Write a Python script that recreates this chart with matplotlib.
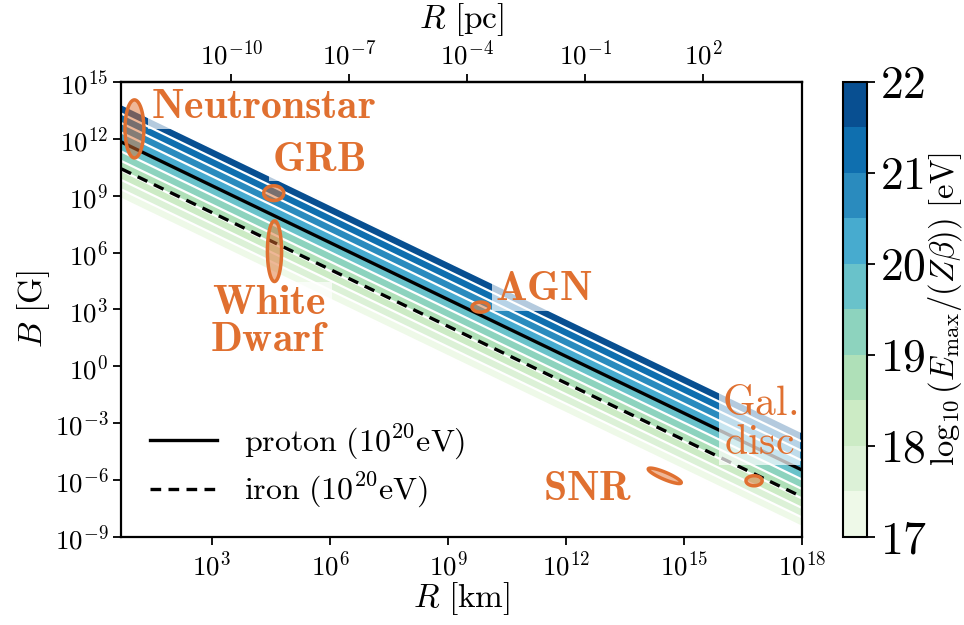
import numpy as np
import matplotlib
matplotlib.use("Agg")
import matplotlib.pyplot as plt
from matplotlib.colors import to_rgba
from matplotlib.ticker import FixedLocator, NullLocator, FuncFormatter

plt.rcParams['font.family'] = 'serif'
plt.rcParams['font.serif'] = ['cmr10', 'DejaVu Serif']
plt.rcParams['mathtext.fontset'] = 'cm'
plt.rcParams['axes.unicode_minus'] = False

# Hillas criterion: E[eV] = k * Z * beta * B[G] * R[km]
k_hillas = 2.998e7
km_per_pc = 3.086e13

e_levels = np.arange(17, 22.5, 0.5)
e_line = 1e20
z_proton = 1
z_iron = 26

# sources: centre (log10 R[km], log10 B[G]), full extent in decades, tilt in log-log
src_names = ['Neutronstar', 'GRB', 'White Dwarf', 'AGN', 'SNR', 'Gal. disc']
src_logR = [1.03, 4.57, 4.59, 9.83, 14.51, 16.78]
src_logB = [12.52, 9.13, 6.07, 3.12, -5.78, -6.04]
src_width = [0.48, 0.51, 0.36, 0.44, 1.13, 0.41]
src_height = [3.06, 0.78, 3.2, 0.53, 0.30, 0.53]
src_angle = [0, 0, 0, 0, -44, 0]

# label positions (log10 R, log10 B)
lab_text = [r'$\mathbf{Neutronstar}$', r'$\mathbf{GRB}$',
            r'$\mathbf{White}$' + '\n' + r'$\mathbf{Dwarf}$', r'$\mathbf{AGN}$',
            r'$\mathbf{SNR}$', r'$\mathrm{Gal.}$' + '\n' + r'$\mathrm{disc}$']
lab_logR = [4.30, 5.72, 4.46, 11.43, 12.56, 16.92]
lab_logB = [13.68, 10.89, 2.34, 4.08, -6.47, -3.05]
lab_spacing = [1.0, 1.0, 1.0, 1.0, 1.0, 1.05]

orange = '#e07030'

fig = plt.figure(figsize=(9.64, 6.25), dpi=100)
ax = fig.add_axes([0.126, 0.141, 0.706, 0.728])
cax = fig.add_axes([0.8745, 0.141, 0.0245, 0.728])

R = np.logspace(0.7, 18, 400)
B = np.logspace(-9, 15, 400)
RR, BB = np.meshgrid(R, B)
logE = np.log10(k_hillas * BB * RR)

cf = ax.contourf(RR, BB, logE, levels=e_levels, cmap='GnBu')
ax.contour(RR, BB, logE, levels=e_levels, colors='white', linewidths=1.6)

ax.plot(R, e_line / (k_hillas * z_proton * R), color='black', lw=2.4,
        label=r'$\mathrm{proton}\ (10^{20}\mathrm{eV})$')
ax.plot(R, e_line / (k_hillas * z_iron * R), color='black', lw=2.4, ls='--',
        dashes=(3.2, 2.2), label=r'$\mathrm{iron}\ (10^{20}\mathrm{eV})$')

t = np.linspace(0, 2 * np.pi, 200)
for lx, ly, w, h, ang in zip(src_logR, src_logB, src_width, src_height, src_angle):
    th = np.deg2rad(ang)
    px = lx + 0.5 * w * np.cos(t) * np.cos(th) - 0.5 * h * np.sin(t) * np.sin(th)
    py = ly + 0.5 * w * np.cos(t) * np.sin(th) + 0.5 * h * np.sin(t) * np.cos(th)
    ax.fill(10 ** px, 10 ** py, facecolor=to_rgba(orange, 0.5),
            edgecolor=orange, lw=2.5, zorder=5)

for txt, lx, ly, ls in zip(lab_text, lab_logR, lab_logB, lab_spacing):
    ax.text(10 ** lx, 10 ** ly, txt, color=orange, fontsize=30,
            ha='center', va='center', linespacing=ls, zorder=4,
            bbox=dict(facecolor='white', alpha=0.7, edgecolor='none', pad=2))

ax.set_xscale('log')
ax.set_yscale('log')
ax.set_xlim(10 ** 0.7, 1e18)
ax.set_ylim(1e-9, 1e15)

fmt = FuncFormatter(lambda v, p: r'$10^{%d}$' % round(np.log10(v)))
ax.xaxis.set_major_locator(FixedLocator(10.0 ** np.arange(3, 19, 3)))
ax.yaxis.set_major_locator(FixedLocator(10.0 ** np.arange(-9, 16, 3)))
ax.xaxis.set_minor_locator(NullLocator())
ax.yaxis.set_minor_locator(NullLocator())
ax.xaxis.set_major_formatter(fmt)
ax.yaxis.set_major_formatter(fmt)
ax.tick_params(labelsize=19.5, length=6, width=1.3, direction='out')
for s in ax.spines.values():
    s.set_linewidth(1.6)

ax.set_xlabel(r'$R\ [\mathrm{km}]$', fontsize=24, labelpad=0)
ax.set_ylabel(r'$B\ [\mathrm{G}]$', fontsize=24, labelpad=2)

top = ax.secondary_xaxis('top', functions=(lambda r: r / km_per_pc,
                                           lambda p: p * km_per_pc))
top.xaxis.set_major_locator(FixedLocator(10.0 ** np.arange(-10, 3, 3)))
top.xaxis.set_minor_locator(NullLocator())
top.xaxis.set_major_formatter(fmt)
top.tick_params(labelsize=19.5, length=6, width=1.3, direction='out')
top.spines['top'].set_linewidth(1.6)
top.set_xlabel(r'$R\ [\mathrm{pc}]$', fontsize=24, labelpad=8)

ax.legend(loc='lower left', bbox_to_anchor=(0.0, -0.005), frameon=False,
          fontsize=23, handlelength=2.1, handletextpad=0.85, labelspacing=0.3)

cb = fig.colorbar(cf, cax=cax, ticks=np.arange(17, 23, 1))
cb.ax.set_yticklabels([r'$%d$' % v for v in range(17, 23)])
cb.ax.tick_params(labelsize=33, length=6, width=1.3)
cb.outline.set_linewidth(1.5)
cb.set_label(r'$\log_{10}(E_\mathrm{max}/(Z\beta))\ [\mathrm{eV}]$', fontsize=23.5,
             labelpad=-1)

fig.savefig('out.png', dpi=100)
